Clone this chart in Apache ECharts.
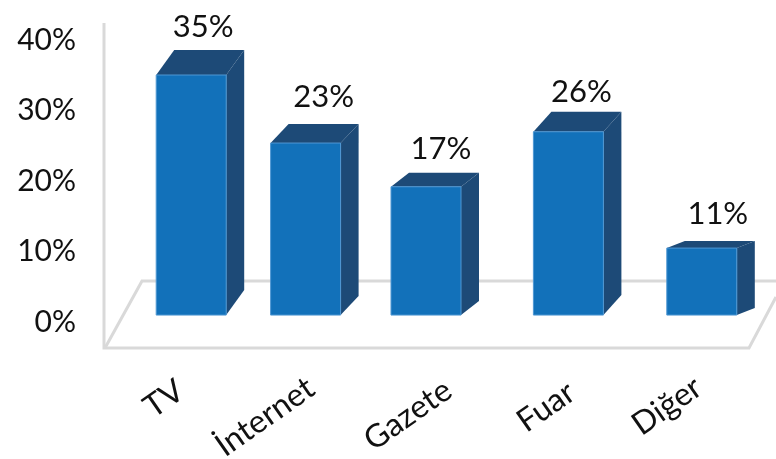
<!DOCTYPE html>
<html>
	<head>
		<meta charset="utf-8" />
		<title>Chart</title>
		<script src="https://cdn.jsdelivr.net/npm/echarts@6/dist/echarts.min.js"></script>
		<style>
			html, body { margin: 0; padding: 0; background: #fff; }
			#chart { width: 776px; height: 459px; }
		</style>
	</head>
	<body>
		<div id="chart"></div>
		<script type="text/javascript">
		// data: labels printed above the bars
		var categories = ['TV', 'İnternet', 'Gazete', 'Fuar', 'Diğer'];
		var values = [35, 23, 17, 26, 11];
		// bar tops as read against the % axis (the source bars do not follow their labels exactly)
		var barTops = [34.75, 25.1, 18.9, 26.7, 10.2];

		// layout of the fake 3d look
		var BASE = 0.7;           // floor line of the bars, in axis units
		var BAR_W = 70;
		var DEPTH_X = 18;
		var depthY = [25, 19, 14, 20, 7];          // perspective gets flatter to the right
		var nudgeX = [20, 0, -14, -6, -7];         // source bars are not evenly spaced
		var valueLabelPos = [[12, -23], [18, -27], [15, -24], [13, -20], [16, -27]];
		var catLabelPos = [[164, 399], [265, 417], [408, 415], [546, 407], [667, 406]];

		var FONT = 'Lato, sans-serif';
		var myChart = echarts.init(document.getElementById('chart'));

		function renderBar(params, api) {
			var i = api.value(0);
			var top = api.coord([i, api.value(1)]);
			var bottom = api.coord([i, BASE]);
			var x0 = top[0] + nudgeX[i] - BAR_W / 2;
			var x1 = x0 + BAR_W;
			var dy = depthY[i];
			var y0 = top[1];
			var y1 = bottom[1];
			var labelPos = valueLabelPos[i];
			var catPos = catLabelPos[i];
			return {
				type: 'group',
				children: [
					{
						type: 'polygon',
						shape: { points: [[x1, y0], [x1 + DEPTH_X, y0 - dy], [x1 + DEPTH_X, y1 - dy], [x1, y1]] },
						style: { fill: '#1D4A77' }
					},
					{
						type: 'polygon',
						shape: { points: [[x0, y0], [x0 + DEPTH_X, y0 - dy], [x1 + DEPTH_X, y0 - dy], [x1, y0]] },
						style: { fill: '#1D4A77' }
					},
					{
						type: 'rect',
						shape: { x: x0, y: y0, width: BAR_W, height: y1 - y0 },
						style: { fill: '#1271BA', stroke: '#4F97D3', lineWidth: 1 }
					},
					{
						type: 'text',
						x: top[0] + nudgeX[i] + labelPos[0],
						y: y0 - dy + labelPos[1],
						style: {
							text: values[i] + '%',
							font: '31px ' + FONT,
							fill: '#111',
							align: 'center',
							verticalAlign: 'middle'
						}
					},
					{
						type: 'text',
						x: catPos[0],
						y: catPos[1],
						rotation: 35 * Math.PI / 180,
						style: {
							text: categories[i],
							font: '32px ' + FONT,
							fill: '#111',
							align: 'center',
							verticalAlign: 'middle'
						}
					}
				]
			};
		}

		var option = {
			animation: false,
			backgroundColor: '#fff',
			grid: { left: 104, right: 0, top: 38, bottom: 139 },
			xAxis: {
				type: 'category',
				data: categories,
				axisLine: { show: false },
				axisTick: { show: false },
				axisLabel: { show: false }
			},
			yAxis: {
				type: 'value',
				min: 0,
				max: 40,
				interval: 10,
				splitLine: { show: false },
				axisLine: { show: false },
				axisTick: { show: false },
				axisLabel: {
					formatter: '{t|{value}%}',
					margin: 28,
					rich: {
						t: {
							fontSize: 30,
							fontFamily: FONT,
							color: '#111',
							padding: [4, 0, 0, 0]
						}
					}
				}
			},
			// wall and floor outline
			graphic: [
				{
					type: 'polyline',
					z: 0,
					shape: { points: [[104, 23], [104, 348], [749, 348], [776, 297]] },
					style: { fill: null, stroke: '#D9D9D9', lineWidth: 3 }
				},
				{
					type: 'polyline',
					z: 0,
					shape: { points: [[105, 348], [142, 281], [776, 281]] },
					style: { fill: null, stroke: '#D9D9D9', lineWidth: 3 }
				}
			],
			series: [{
				type: 'custom',
				z: 5,
				renderItem: renderBar,
				data: barTops.map(function (v, i) { return [i, v]; }),
				encode: { x: 0, y: 1 }
			}]
		};

		myChart.setOption(option);
		</script>
	</body>
</html>
